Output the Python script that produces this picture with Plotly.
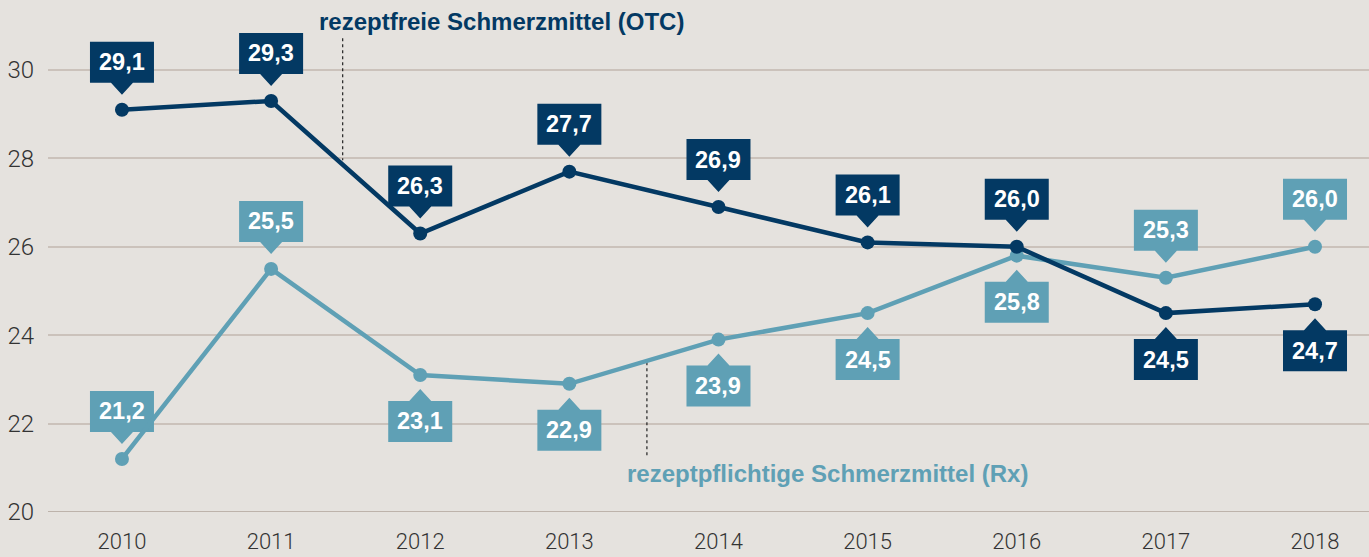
import plotly.graph_objects as go

years = [2010, 2011, 2012, 2013, 2014, 2015, 2016, 2017, 2018]
otc = [29.1, 29.3, 26.3, 27.7, 26.9, 26.1, 26.0, 24.5, 24.7]
rx = [21.2, 25.5, 23.1, 22.9, 23.9, 24.5, 25.8, 25.3, 26.0]
otc_pos = ["above"] * 7 + ["below"] * 2
rx_pos = ["above", "above", "below", "below", "below", "below", "below", "above", "above"]
otc_name = "rezeptfreie Schmerzmittel (OTC)"
rx_name = "rezeptpflichtige Schmerzmittel (Rx)"
y_ticks = [20, 22, 24, 26, 28, 30]

NAVY = "#033963"
TEAL = "#5fa0b5"
BG = "#e5e2de"
GRID = "#cbc2bb"
FONT = "Liberation Sans, Arial, sans-serif"
TICKFONT = "Roboto, Liberation Sans, Arial, sans-serif"

fig = go.Figure()
for vals, col, name in [(rx, TEAL, rx_name), (otc, NAVY, otc_name)]:
    fig.add_trace(go.Scatter(
        x=years, y=vals, mode="lines+markers", name=name,
        line=dict(color=col, width=4.5),
        marker=dict(color=col, size=14),
        showlegend=False, hoverinfo="skip"))

def fmt(v):
    return f"{v:.1f}".replace(".", ",")

above_path = "M -32,27 L -11,27 L 0,15 L 11,27 L 32,27 L 32,68 L -32,68 Z"
below_path = "M -32,-26 L -11,-26 L 0,-14 L 11,-26 L 32,-26 L 32,-67 L -32,-67 Z"

for vals, pos, col in [(rx, rx_pos, TEAL), (otc, otc_pos, NAVY)]:
    for yr, v, p in zip(years, vals, pos):
        fig.add_shape(type="path", xref="x", yref="y",
                      xsizemode="pixel", ysizemode="pixel",
                      xanchor=yr, yanchor=v,
                      path=above_path if p == "above" else below_path,
                      fillcolor=col, line=dict(width=0), layer="between")
        fig.add_annotation(x=yr, y=v, text=fmt(v), showarrow=False,
                           yshift=47.5 if p == "above" else -46.5,
                           font=dict(family=FONT, size=23.5, color="white", weight="bold"))

# series name labels with dotted leaders
fig.add_shape(type="line", x0=2011.48, x1=2011.48, y0=30.72, y1=27.96,
              xref="x", yref="y", line=dict(color="#222222", width=1.2, dash="dot"), layer="between")
fig.add_shape(type="line", x0=2013.52, x1=2013.52, y0=23.39, y1=21.24,
              xref="x", yref="y", line=dict(color="#222222", width=1.2, dash="dot"), layer="between")
fig.add_annotation(x=2011.31, y=31.09, text=otc_name, showarrow=False, xanchor="left",
                   font=dict(family=FONT, size=24, color=NAVY, weight="bold"))
fig.add_annotation(x=2013.37, y=20.86, text=rx_name, showarrow=False, xanchor="left",
                   font=dict(family=FONT, size=24, color=TEAL, weight="bold"))

fig.update_layout(
    width=1369, height=557,
    margin=dict(l=48, r=0, t=0, b=45),
    paper_bgcolor=BG, plot_bgcolor=BG,
    font=dict(family=FONT, size=20, color="#333333"),
    xaxis=dict(range=[2009.504, 2018.362], tickvals=years, ticktext=[str(y) for y in years],
               showgrid=False, zeroline=False, showline=False, ticks="",
               tickfont=dict(family=TICKFONT, size=22, color="#333333", weight=300),
               ticklabelstandoff=14),
    yaxis=dict(range=[20, 31.584], tickvals=y_ticks, showgrid=True, gridcolor=GRID,
               gridwidth=1.5, zeroline=False, showline=False, ticks="",
               tickfont=dict(family=TICKFONT, size=24, color="#333333", weight=300),
               ticklabelstandoff=13),
)
fig.add_hline(y=20, line=dict(color="#bdb3ab", width=2), layer="below")

fig.write_html("out.html", config={"displayModeBar": False},
               post_script="document.body.style.margin='0';document.body.style.background='" + BG + "';")
